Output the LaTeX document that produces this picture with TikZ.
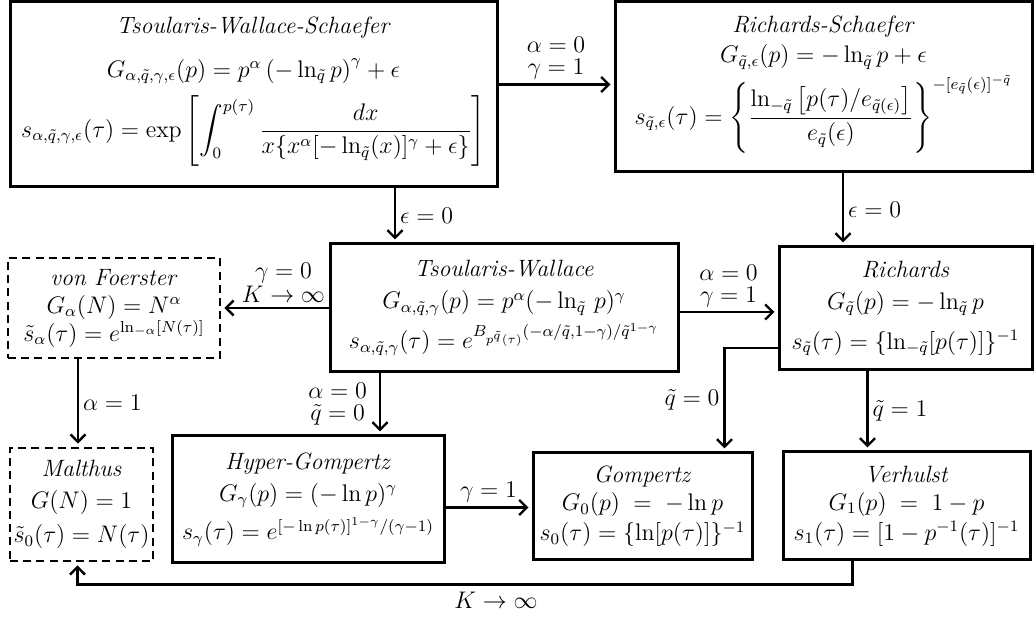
\documentclass[tikz,border=0pt]{standalone}
\usepackage{amsmath,amssymb}
\usepackage{tikz}
\usetikzlibrary{arrows.meta}
\usetikzlibrary{positioning}

\begin{document}
\begin{tikzpicture}[x=0.5pt,y=-0.5pt,
  every node/.style={font=\fontsize{11.8}{14}\selectfont},
  box/.style={draw,line width=1.5pt,align=center,inner sep=0pt},
  dbox/.style={box,line width=1.3pt,dash pattern=on 4pt off 2.6pt},
  arr/.style={line width=1.2pt,-{Straight Barb[length=3.8pt,width=7.5pt]},shorten >=1.5pt},
  lbl/.style={align=center,inner sep=2pt}]
\useasboundingbox (0,0) rectangle (1035,619);

% top row
\node[box,minimum width=243.5pt,minimum height=92.5pt] (tws) at (253.5,94.5)
  {\textit{Tsoularis-Wallace-Schaefer}\\[8pt]
   $G_{\alpha,\tilde q,\gamma,\epsilon}(p)=p^{\alpha}\left(-\ln_{\tilde q}p\right)^{\gamma}+\epsilon$\\[5pt]
   $\displaystyle s_{\alpha,\tilde q,\gamma,\epsilon}(\tau)=\exp\left[\int_0^{p(\tau)}\frac{dx}{x\{x^{\alpha}[-\ln_{\tilde q}(x)]^{\gamma}+\epsilon\}}\right]$\\[2pt]};
\node[box,minimum width=208.5pt,minimum height=85pt] (rs) at (823.5,87)
  {\textit{Richards-Schaefer}\\[1pt]
   $G_{\tilde q,\epsilon}(p)=-\ln_{\tilde q}p+\epsilon$\\[2pt]
   $\displaystyle s_{\tilde q,\epsilon}(\tau)=\left\{\frac{\ln_{-\tilde q}\big[p(\tau)/e_{\tilde q(\epsilon)}\big]}{e_{\tilde q}(\epsilon)}\right\}^{-[e_{\tilde q}(\epsilon)]^{-\tilde q}}$\\[1pt]};

% middle row
\node[box,minimum width=174pt,minimum height=64pt] (tw) at (504,308)
  {\textit{Tsoularis-Wallace}\\[2pt]
   $G_{\alpha,\tilde q,\gamma}(p)=p^{\alpha}(-\ln_{\tilde q}\,p)^{\gamma}$\\[3pt]
   $s_{\alpha,\tilde q,\gamma}(\tau)=e^{B_{p^{\tilde q}(\tau)}(-\alpha/\tilde q,1-\gamma)/\tilde q^{1-\gamma}}$};
\node[dbox,minimum width=106pt,minimum height=50pt] (vf) at (114,308)
  {\textit{von Foerster}\\[0pt]
   $G_{\alpha}(N)=N^{\alpha}$\\[0pt]
   $\tilde s_{\alpha}(\tau)=e^{\ln_{-\alpha}[N(\tau)]}$};
\node[box,minimum width=126.5pt,minimum height=61.5pt] (rich) at (905.5,308.5)
  {\textit{Richards}\\[2pt]
   $G_{\tilde q}(p)=-\ln_{\tilde q}p$\hspace{11pt}\\[6pt]
   $s_{\tilde q}(\tau)=\{\ln_{-\tilde q}[p(\tau)]\}^{-1}$};

% bottom row
\node[dbox,minimum width=71.5pt,minimum height=56.5pt] (mal) at (81.5,504.5)
  {\textit{Malthus}\\[2pt]
   $G(N)=1$\\[3pt]
   $\tilde s_{0}(\tau)=N(\tau)$};
\node[box,minimum width=136pt,minimum height=63.5pt] (hg) at (308,499.5)
  {\textit{Hyper-Gompertz}\\[2pt]
   $G_{\gamma}(p)=(-\ln p)^{\gamma}$\\[4pt]
   $s_{\gamma}(\tau)=e^{[-\ln p(\tau)]^{1-\gamma}/(\gamma-1)}$};
\node[box,minimum width=109.5pt,minimum height=53.5pt] (gomp) at (642.5,506.5)
  {\textit{Gompertz}\\[0pt]
   $G_{0}(p)\;=\;-\ln p$\\[1pt]
   $s_{0}(\tau)=\{\ln[p(\tau)]\}^{-1}$};
\node[box,minimum width=123.5pt,minimum height=54pt] (verh) at (906.5,506)
  {\textit{Verhulst}\\[0pt]
   $G_{1}(p)\;=\;1-p$\\[1pt]
   $s_{1}(\tau)=[1-p^{-1}(\tau)]^{-1}$};

% arrows
\draw[arr] ([yshift=5pt]tws.east) -- ([yshift=5pt]tws.east -| rs.west)
  node[lbl,midway,above] {$\alpha=0$\\[-3pt]$\gamma=1$};
\draw[arr] ([xshift=-54.5pt]tw.north |- tws.south) -- ([xshift=-54.5pt]tw.north)
  node[lbl,midway,right] {$\epsilon=0$};
\draw[arr] ([xshift=9.75pt]rs.south) -- ([xshift=9.75pt]rs.south |- rich.north)
  node[lbl,midway,right] {$\epsilon=0$};
\draw[arr] (tw.west) -- (vf.east)
  node[lbl,pos=0.42,above] {$\gamma=0$\\[-2pt]$K\to\infty$};
\draw[arr] ([yshift=-2pt]tw.east) -- ([yshift=-2pt]tw.east -| rich.west)
  node[lbl,midway,above] {$\alpha=0$\\[-3pt]$\gamma=1$};
\draw[arr] ([xshift=-62pt]tw.south) -- ([xshift=-62pt]tw.south |- hg.north)
  node[lbl,midway,left,xshift=-4pt] {$\alpha=0$\\[-3pt]$\tilde q=0$};
\draw[arr] ([xshift=-18pt]vf.south) -- ([xshift=-18pt]vf.south |- mal.north)
  node[lbl,midway,right] {$\alpha=1$};
\draw[arr] ([yshift=-4pt]hg.east) -- ([yshift=-4pt]hg.east -| gomp.west)
  node[lbl,midway,above] {$\gamma=1$};
\draw[arr] ([yshift=-19.75pt]rich.west) -| ([xshift=41pt]gomp.north)
  node[lbl,pos=0.75,left] {$\tilde q=0$};
\draw[arr] ([xshift=-19pt]rich.south) -- ([xshift=-19pt]rich.south |- verh.north)
  node[lbl,midway,right] {$\tilde q=1$};
\draw[arr] ([xshift=-27pt]verh.south) -- ++(0,-11.5pt) -| ([xshift=-2pt]mal.south)
  node[lbl,pos=0.23,below,yshift=-1pt] {$K\to\infty$};
\end{tikzpicture}
\end{document}
